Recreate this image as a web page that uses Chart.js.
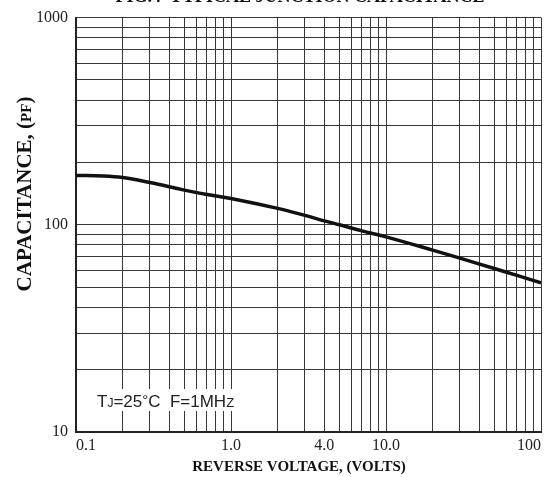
<!DOCTYPE html>
<html>
<head>
<meta charset="utf-8">
<script src="https://cdn.jsdelivr.net/npm/chart.js@4.4.0/dist/chart.umd.min.js"></script>
<style>
  html, body { margin: 0; padding: 0; background: #fff; }
  #wrap { width: 545px; height: 477px; }
</style>
</head>
<body>
<div id="wrap"><canvas id="capChart" width="545" height="477"></canvas></div>
<script>
// --- data: reverse voltage (V) -> junction capacitance (pF) ---
const voltage = [0.1, 0.15, 0.2, 0.3, 0.5, 0.7, 1, 2, 3, 4, 5, 7, 10, 20, 30, 50, 70, 100];
const capacitance = [173, 172, 169, 160, 147, 140, 134, 120, 111, 104.5, 100, 93.5, 87.5, 75.5, 69, 61.5, 57, 52.5];

// --- grid lines of the log-log paper ---
const xGrid = [0.1, 0.2, 0.3, 0.4, 0.5, 0.6, 0.7, 0.8, 0.9,
  1, 2, 3, 4, 5, 6, 7, 8, 9,
  10, 20, 30, 40, 50, 60, 70, 80, 90, 100];
const yGrid = [10, 20, 30, 40, 50, 60, 70, 80, 90,
  100, 200, 300, 400, 500, 600, 700, 800, 900, 1000];

// --- tick labels ---
const xTickValues = [0.1, 1, 4, 10, 100];
const xTickText = ["0.1", "1.0", "4.0", "10.0", "100"];
const yTickValues = [10, 100, 1000];
const yTickText = ["10", "100", "1000"];

const chartTitle = "FIG.4  TYPICAL JUNCTION CAPACITANCE";
const xTitle = "REVERSE VOLTAGE, (VOLTS)";

const SERIF = '"Liberation Serif", "Times New Roman", serif';
const SANS = '"Liberation Sans", Arial, sans-serif';

// draw a row of text pieces with their own fonts
function drawRuns(ctx, runs, x, y, centered) {
  let total = 0;
  runs.forEach((r) => {
    ctx.font = r.font;
    r.w = ctx.measureText(r.text).width;
    total += r.w;
  });
  let cx = centered ? x - total / 2 : x;
  runs.forEach((r) => {
    ctx.font = r.font;
    ctx.fillText(r.text, cx, y + (r.dy || 0));
    cx += r.w;
  });
  return total;
}

const textPlugin = {
  id: "textPlugin",
  afterDatasetsDraw(chart) {
    const ctx = chart.ctx;
    ctx.save();
    ctx.fillStyle = "#111";
    ctx.textBaseline = "alphabetic";

    // title, mostly cut off by the top of the picture
    ctx.textAlign = "center";
    ctx.font = "bold 18px " + SERIF;
    ctx.fillText(chartTitle, 300, 2);

    // x axis title
    ctx.font = "bold 15px " + SERIF;
    ctx.fillText(xTitle, 299, 471);

    // y axis title, rotated
    ctx.save();
    ctx.translate(31, 194);
    ctx.rotate(-Math.PI / 2);
    ctx.textAlign = "left";
    drawRuns(ctx, [
      { text: "CAPACITANCE, (", font: "bold 21px " + SERIF },
      { text: "PF", font: "bold 15px " + SERIF },
      { text: ")", font: "bold 21px " + SERIF },
    ], 0, 0, true);
    ctx.restore();

    // conditions note on a white patch
    ctx.textAlign = "left";
    ctx.fillStyle = "#fff";
    ctx.fillRect(94, 389, 145, 22);
    ctx.fillStyle = "#222";
    drawRuns(ctx, [
      { text: "T", font: "17px " + SANS },
      { text: "J", font: "12px " + SANS },
      { text: "=25", font: "17px " + SANS },
      { text: "\u00b0", font: "15px " + SANS, dy: -2 },
      { text: "C  F=1MH", font: "17px " + SANS },
      { text: "Z", font: "13px " + SANS },
    ], 97, 407, false);

    ctx.restore();
  },
};

const ctx = document.getElementById("capChart").getContext("2d");
const capChart = new Chart(ctx, {
  type: "line",
  data: {
    datasets: [
      {
        data: voltage.map((v, i) => ({ x: v, y: capacitance[i] })),
        borderColor: "#111",
        borderWidth: 3.5,
        pointRadius: 0,
        tension: 0.4,
        fill: false,
      },
    ],
  },
  options: {
    responsive: false,
    animation: false,
    events: [],
    layout: { padding: { top: 14, right: 2, left: 0, bottom: 0 } },
    plugins: { legend: { display: false }, tooltip: { enabled: false } },
    scales: {
      x: {
        type: "logarithmic",
        min: 0.1,
        max: 100,
        afterBuildTicks: (s) => { s.ticks = xGrid.map((v) => ({ value: v })); },
        afterFit: (s) => { s.height = 45; },
        grid: { color: "#383838", lineWidth: 1, drawTicks: false },
        border: { color: "#222", width: 2 },
        ticks: {
          autoSkip: false,
          maxRotation: 0,
          align: "inner",
          padding: 4,
          color: "#222",
          font: { family: SERIF, size: 16 },
          callback: (v) => {
            const i = xTickValues.indexOf(v);
            return i < 0 ? "" : xTickText[i];
          },
        },
      },
      y: {
        type: "logarithmic",
        min: 10,
        max: 1000,
        afterBuildTicks: (s) => { s.ticks = yGrid.map((v) => ({ value: v })); },
        afterFit: (s) => { s.width = 76; },
        grid: { color: "#383838", lineWidth: 1, drawTicks: false },
        border: { color: "#222", width: 2 },
        ticks: {
          autoSkip: false,
          padding: 8,
          color: "#222",
          font: { family: SERIF, size: 16 },
          callback: (v) => {
            const i = yTickValues.indexOf(v);
            return i < 0 ? "" : yTickText[i];
          },
        },
      },
    },
  },
  plugins: [textPlugin],
});
</script>
</body>
</html>
